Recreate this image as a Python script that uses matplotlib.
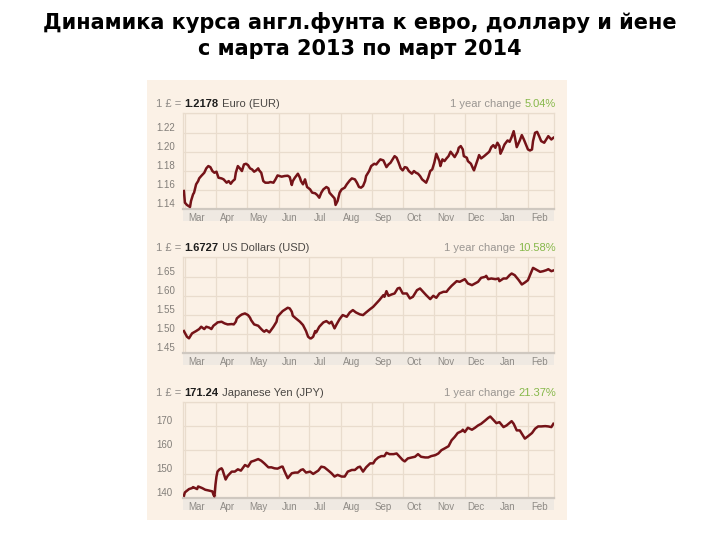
import matplotlib
matplotlib.use('Agg')
import matplotlib.pyplot as plt
from matplotlib.patches import Rectangle
import pandas as pd

# day 0 of the charts
start = pd.Timestamp('2013-02-27')

# GBP -> EUR (days since start, rate)
eur_day = [1, 2, 4, 7, 8, 10, 11, 13, 15, 16, 18, 21, 23, 25, 27, 29, 31, 33, 35, 38,
           40, 43, 45, 47, 49, 51, 52, 54, 56, 58, 60, 62, 64, 66, 68, 70, 72, 74, 75, 77,
           79, 81, 84, 86, 89, 91, 93, 95, 97, 100, 103, 105, 107, 108, 110, 113, 115, 116, 118, 120,
           122, 125, 127, 130, 132, 134, 136, 138, 141, 143, 144, 147, 149, 150, 152, 154, 156, 159, 161, 164,
           166, 169, 171, 173, 175, 177, 179, 180, 183, 185, 188, 190, 192, 194, 197, 198, 200, 202, 204, 206,
           208, 210, 212, 214, 216, 218, 220, 222, 225, 227, 229, 231, 233, 235, 237, 239, 241, 243, 245, 247,
           249, 250, 252, 253, 255, 257, 259, 261, 263, 265, 267, 270, 271, 273, 275, 276, 279, 280, 283, 285,
           286, 288, 290, 291, 293, 296, 298, 301, 303, 305, 307, 309, 311, 312, 314, 316, 319, 321, 323, 325,
           326, 328, 330, 331, 333, 335, 337, 339, 341, 343, 344, 346, 348, 350, 352, 355, 357, 359, 361, 362,
           364]
eur_val = [1.1588, 1.1466, 1.1442, 1.1421, 1.1484, 1.1553, 1.1571, 1.1658, 1.1692, 1.1720,
           1.1745, 1.1779, 1.1825, 1.1849, 1.1838, 1.1797, 1.1779, 1.1790, 1.1727, 1.1720,
           1.1710, 1.1675, 1.1692, 1.1664, 1.1692, 1.1710, 1.1779, 1.1849, 1.1825, 1.1797,
           1.1866, 1.1873, 1.1859, 1.1825, 1.1814, 1.1790, 1.1804, 1.1825, 1.1804, 1.1779,
           1.1692, 1.1675, 1.1675, 1.1682, 1.1675, 1.1710, 1.1751, 1.1745, 1.1738, 1.1745,
           1.1748, 1.1734, 1.1651, 1.1692, 1.1727, 1.1769, 1.1727, 1.1692, 1.1658, 1.1710,
           1.1630, 1.1605, 1.1571, 1.1564, 1.1546, 1.1518, 1.1571, 1.1605, 1.1630, 1.1616,
           1.1571, 1.1536, 1.1511, 1.1442, 1.1484, 1.1571, 1.1605, 1.1623, 1.1658, 1.1699,
           1.1720, 1.1710, 1.1675, 1.1630, 1.1623, 1.1640, 1.1692, 1.1745, 1.1797, 1.1849,
           1.1873, 1.1866, 1.1894, 1.1919, 1.1908, 1.1884, 1.1838, 1.1866, 1.1884, 1.1919,
           1.1953, 1.1936, 1.1884, 1.1825, 1.1804, 1.1838, 1.1832, 1.1797, 1.1769, 1.1797,
           1.1779, 1.1769, 1.1745, 1.1710, 1.1692, 1.1675, 1.1727, 1.1797, 1.1814, 1.1884,
           1.1978, 1.1953, 1.1901, 1.1849, 1.1919, 1.1901, 1.1929, 1.1953, 1.1999, 1.1971,
           1.1943, 1.1999, 1.2040, 1.2058, 1.2023, 1.1953, 1.1936, 1.1901, 1.1873, 1.1825,
           1.1804, 1.1866, 1.1929, 1.1964, 1.1929, 1.1953, 1.1971, 1.1999, 1.2047, 1.2068,
           1.2040, 1.2093, 1.2058, 1.1978, 1.2023, 1.2075, 1.2117, 1.2103, 1.2152, 1.2214,
           1.2162, 1.2047, 1.2093, 1.2117, 1.2173, 1.2127, 1.2075, 1.2023, 1.2012, 1.2023,
           1.2110, 1.2197, 1.2207, 1.2162, 1.2110, 1.2093, 1.2127, 1.2162, 1.2138, 1.2127,
           1.2145]

# GBP -> USD
usd_day = [1, 4, 6, 9, 13, 16, 18, 21, 23, 26, 28, 30, 33, 34, 38, 41, 44, 48, 50, 52,
           53, 56, 58, 61, 64, 66, 67, 70, 74, 77, 79, 80, 82, 85, 89, 92, 93, 95, 98, 102,
           103, 105, 107, 108, 111, 115, 118, 121, 123, 125, 126, 128, 130, 131, 134, 138, 141, 144, 146, 149,
           151, 154, 157, 161, 164, 167, 170, 174, 177, 180, 184, 187, 190, 193, 197, 198, 200, 202, 205, 208,
           211, 213, 216, 220, 223, 226, 230, 233, 236, 239, 243, 246, 249, 252, 256, 259, 261, 264, 269, 272,
           275, 277, 280, 284, 287, 290, 293, 297, 298, 300, 303, 307, 310, 311, 315, 318, 321, 323, 326, 330,
           333, 336, 339, 341, 343, 344, 348, 351, 354, 357, 359, 362, 364]
usd_val = [1.5074, 1.4926, 1.4883, 1.5013, 1.5074, 1.5126, 1.5187, 1.5126, 1.5187, 1.5161,
           1.5126, 1.5213, 1.5274, 1.5300, 1.5318, 1.5274, 1.5248, 1.5257, 1.5248, 1.5318,
           1.5405, 1.5474, 1.5509, 1.5535, 1.5492, 1.5422, 1.5361, 1.5248, 1.5213, 1.5126,
           1.5074, 1.5057, 1.5100, 1.5039, 1.5187, 1.5318, 1.5448, 1.5509, 1.5596, 1.5666,
           1.5683, 1.5666, 1.5579, 1.5474, 1.5405, 1.5318, 1.5231, 1.5074, 1.4926, 1.4883,
           1.4883, 1.4926, 1.5074, 1.5039, 1.5187, 1.5300, 1.5335, 1.5274, 1.5318, 1.5144,
           1.5248, 1.5387, 1.5492, 1.5448, 1.5561, 1.5622, 1.5561, 1.5509, 1.5492, 1.5561,
           1.5648, 1.5709, 1.5796, 1.5883, 1.6014, 1.5970, 1.6118, 1.5996, 1.6031, 1.6057,
           1.6188, 1.6205, 1.6057, 1.6057, 1.5927, 1.5970, 1.6144, 1.6188, 1.6101, 1.6014,
           1.5909, 1.5996, 1.5944, 1.6057, 1.6101, 1.6101, 1.6170, 1.6257, 1.6379, 1.6362,
           1.6405, 1.6431, 1.6318, 1.6275, 1.6318, 1.6362, 1.6466, 1.6492, 1.6518, 1.6431,
           1.6449, 1.6431, 1.6449, 1.6379, 1.6449, 1.6449, 1.6536, 1.6579, 1.6536, 1.6405,
           1.6292, 1.6344, 1.6405, 1.6536, 1.6666, 1.6727, 1.6666, 1.6623, 1.6640, 1.6666,
           1.6692, 1.6640, 1.6658]

# GBP -> JPY
jpy_day = [1, 2, 6, 9, 10, 14, 15, 19, 22, 25, 29, 30, 31, 32, 33, 34, 36, 38, 39, 40,
           42, 44, 48, 51, 54, 57, 61, 64, 67, 70, 74, 77, 80, 84, 87, 90, 93, 97, 98, 100,
           103, 107, 110, 113, 116, 118, 121, 125, 128, 133, 136, 139, 143, 146, 149, 152, 156, 159, 162, 166,
           169, 172, 174, 177, 180, 184, 187, 189, 192, 195, 198, 200, 203, 207, 210, 213, 216, 218, 221, 225,
           228, 231, 234, 238, 241, 244, 248, 251, 254, 257, 261, 264, 267, 270, 274, 275, 277, 280, 284, 287,
           290, 293, 297, 300, 302, 305, 308, 311, 315, 318, 323, 325, 328, 331, 336, 339, 343, 346, 349, 352,
           356, 359, 362, 364]
jpy_val = [140.97, 142.35, 143.73, 144.14, 144.55, 143.73, 144.83, 144.14, 143.45, 143.17,
           142.76, 141.38, 140.69, 145.52, 148.97, 151.04, 152.00, 152.42, 151.73, 150.35,
           147.73, 149.25, 151.04, 151.04, 152.00, 151.45, 153.80, 153.11, 155.18, 155.59,
           156.28, 155.59, 154.49, 152.83, 152.83, 152.42, 152.28, 153.11, 153.11, 151.04,
           148.28, 150.35, 150.63, 150.63, 151.73, 152.00, 150.63, 151.04, 150.07, 151.45,
           153.11, 152.83, 151.45, 150.35, 148.97, 149.66, 148.97, 148.97, 151.04, 151.73,
           151.73, 152.83, 153.11, 151.04, 152.83, 154.49, 154.49, 155.87, 156.97, 157.53,
           157.53, 158.91, 158.35, 158.35, 158.63, 157.25, 155.87, 155.32, 156.56, 156.97,
           157.25, 158.35, 157.25, 156.97, 156.97, 157.53, 157.94, 158.63, 160.01, 160.70,
           161.67, 164.15, 165.53, 167.19, 168.01, 168.57, 167.60, 169.39, 168.57, 169.39,
           170.36, 171.05, 172.43, 173.53, 174.09, 172.71, 171.33, 171.74, 169.67, 170.36,
           172.15, 171.05, 168.29, 168.29, 164.84, 165.81, 167.19, 168.98, 169.95, 169.95,
           170.08, 169.95, 169.67, 171.05]

months = ['Mar', 'Apr', 'May', 'Jun', 'Jul', 'Aug', 'Sep', 'Oct', 'Nov', 'Dec', 'Jan', 'Feb']

eur_ticks = [1.14, 1.16, 1.18, 1.20, 1.22, 1.24]
usd_ticks = [1.45, 1.50, 1.55, 1.60, 1.65, 1.70]
jpy_ticks = [140, 150, 160, 170, 180]
eur_ticklabels = ['1.14', '1.16', '1.18', '1.20', '1.22', '']
usd_ticklabels = ['1.45', '1.50', '1.55', '1.60', '1.65', '']
jpy_ticklabels = ['140', '150', '160', '170', '']

rates = ['1.2178', '1.6727', '171.24']
names = [' Euro (EUR)', ' US Dollars (USD)', ' Japanese Yen (JPY)']
changes = ['5.04%', '10.58%', '21.37%']

title1 = 'Динамика курса англ.фунта к евро, доллару и йене'
title2 = 'с марта 2013 по март 2014'

plt.rcParams['font.family'] = ['Liberation Sans', 'DejaVu Sans']

fig = plt.figure(figsize=(7.2, 5.4), dpi=100)

fig.text(0.5, 0.959, title1, ha='center', va='center', fontsize=15,
         fontweight='bold', family='DejaVu Sans')
fig.text(0.5, 0.909, title2, ha='center', va='center', fontsize=15,
         fontweight='bold', family='DejaVu Sans')

# beige card behind the three charts
fig.patches.append(Rectangle((147 / 720, 20 / 540), 420 / 720, 440 / 540,
                             transform=fig.transFigure, facecolor='#fbf1e6',
                             edgecolor='none', zorder=-5))

panels = [
    (eur_day, eur_val, eur_ticks, eur_ticklabels, 0.613),
    (usd_day, usd_val, usd_ticks, usd_ticklabels, 0.3463),
    (jpy_day, jpy_val, jpy_ticks, jpy_ticklabels, 0.0778),
]

month_starts = pd.date_range('2013-03-01', periods=12, freq='MS')
label_pos = month_starts + pd.Timedelta(days=11)
grid_c = '#e9dccd'

for i, (days, vals, ticks, tlabels, bottom) in enumerate(panels):
    ax = fig.add_axes([0.254, bottom, 0.516, 0.177])
    ax.patch.set_alpha(0)
    dates = start + pd.to_timedelta(days, unit='D')
    ax.plot(dates, vals, color='#751318', lw=1.8, solid_joinstyle='round', zorder=3)

    ax.set_xlim(start, start + pd.Timedelta(days=365))
    ax.set_ylim(ticks[0], ticks[-1])
    ax.set_xticks(month_starts)
    ax.set_xticklabels([''] * 12)
    ax.set_xticks(label_pos, minor=True)
    ax.set_xticklabels(months, minor=True)
    ax.tick_params(axis='x', which='both', length=0, pad=3, labelsize=7, labelcolor='#8f8b86')
    ax.set_yticks(ticks)
    ax.set_yticklabels(tlabels)
    ax.tick_params(axis='y', length=0, pad=19, labelsize=7, labelcolor='#827e79')
    for t in ax.get_yticklabels():
        t.set_horizontalalignment('left')
        t.set_verticalalignment('bottom')
    ax.grid(True, which='major', color=grid_c, lw=0.9)
    ax.set_axisbelow(True)
    for s in ['top', 'left', 'right']:
        ax.spines[s].set_color(grid_c)
        ax.spines[s].set_linewidth(0.9)
    ax.spines['bottom'].set_color('#cfc8c0')
    ax.spines['bottom'].set_linewidth(1.6)
    ax.add_patch(Rectangle((0, -0.13), 1, 0.13, transform=ax.transAxes,
                           facecolor='#efe9e2', edgecolor='none', clip_on=False, zorder=0))

    # header line
    hy = 1.07
    t1 = ax.text(-0.072, hy, '1 £ = ', transform=ax.transAxes, fontsize=8,
                 color='#8e8a86', va='baseline')
    t2 = ax.annotate(rates[i], xy=(1, hy), xycoords=(t1, 'axes fraction'),
                     fontsize=8, fontweight='bold', color='#1e1e1e', va='baseline')
    ax.annotate(names[i], xy=(1, hy), xycoords=(t2, 'axes fraction'),
                fontsize=8, color='#4a4744', va='baseline')
    g = ax.text(1.004, hy, changes[i], transform=ax.transAxes, fontsize=8,
                color='#86b84a', ha='right', va='baseline')
    ax.annotate('1 year change ', xy=(0, hy), xycoords=(g, 'axes fraction'),
                fontsize=8, color='#9a9692', ha='right', va='baseline')

fig.savefig('out.png', dpi=100)
